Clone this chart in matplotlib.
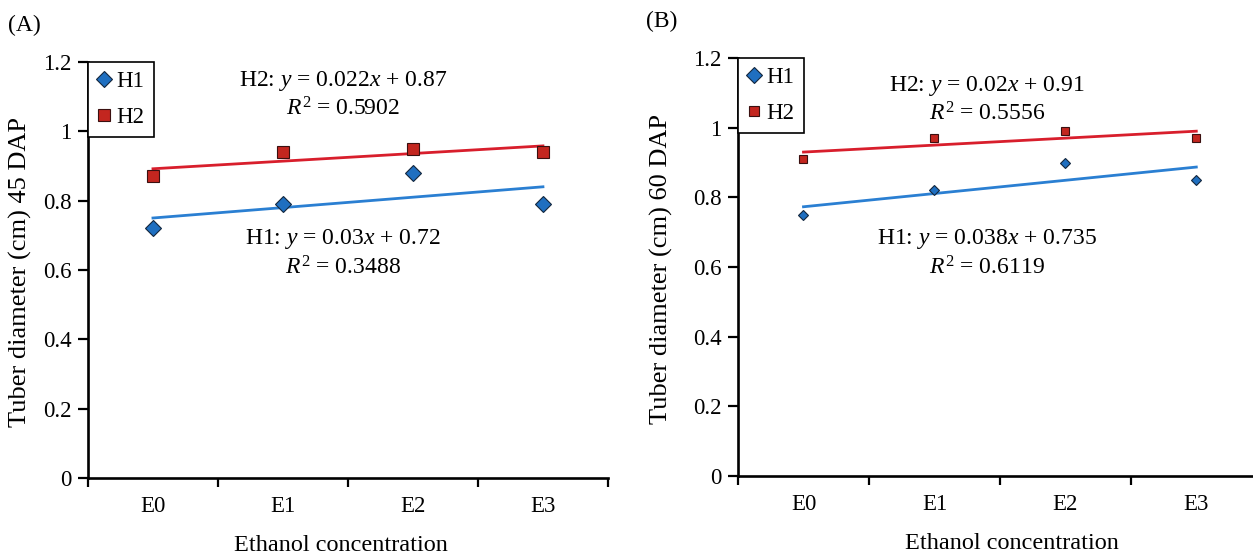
import matplotlib
matplotlib.use("Agg")
import matplotlib.pyplot as plt
import numpy as np

plt.rcParams['font.family'] = ['Liberation Serif', 'DejaVu Serif']
plt.rcParams['mathtext.fontset'] = 'custom'
plt.rcParams['mathtext.rm'] = 'Liberation Serif'
plt.rcParams['mathtext.it'] = 'Liberation Serif:italic'

# data
categories = ["E0", "E1", "E2", "E3"]
h1_45 = [0.72, 0.79, 0.88, 0.79]
h2_45 = [0.87, 0.94, 0.95, 0.94]
h1_60 = [0.75, 0.82, 0.90, 0.85]
h2_60 = [0.91, 0.97, 0.99, 0.97]
yticks = [0, 0.2, 0.4, 0.6, 0.8, 1, 1.2]
ytick_labels = ["0", "0.2", "0.4", "0.6", "0.8", "1", "1.2"]
eq_45 = ["H2: $y$ = 0.022$x$ + 0.87", "$R^2$ = 0.5902",
         "H1: $y$ = 0.03$x$ + 0.72", "$R^2$ = 0.3488"]
eq_60 = ["H2: $y$ = 0.02$x$ + 0.91", "$R^2$ = 0.5556",
         "H1: $y$ = 0.038$x$ + 0.735", "$R^2$ = 0.6119"]

BLUE = '#1f6fc0'
RED = '#c3261f'
BLUE_LINE = '#2a7fd2'
RED_LINE = '#d81e2c'

fig = plt.figure(figsize=(12.53, 5.57), dpi=100)
axA = fig.add_axes([0.0702, 0.1418, 0.415, 0.7469])
axB = fig.add_axes([0.589, 0.1454, 0.418, 0.7504])


def panel(ax, h1, h2, ylab, eqs, eq_x, eq_y, ms_d, ms_s, mscale, xlab_x, ylab_x):
    x = np.arange(1, len(categories) + 1)
    # linear trend lines (excel style, x = 1..4)
    for vals, col in ((h1, BLUE_LINE), (h2, RED_LINE)):
        k, b = np.polyfit(x, vals, 1)
        ax.plot(x, k * x + b, color=col, lw=2.0, zorder=2)
    ax.plot(x, h1, ls='none', marker='D', ms=ms_d, mfc=BLUE, mec='#13263d',
            mew=0.8, label='H1', zorder=3)
    ax.plot(x, h2, ls='none', marker='s', ms=ms_s, mfc=RED, mec='#3a1010',
            mew=0.8, label='H2', zorder=3)

    ax.set_xlim(0.5, len(categories) + 0.5)
    ax.set_ylim(0, 1.2)
    ax.set_yticks(yticks)
    ax.set_yticklabels(ytick_labels)
    # boundaries get tick marks, labels sit in the middle
    ax.set_xticks(np.arange(0.5, len(categories) + 1, 1))
    ax.set_xticklabels([])
    ax.set_xticks(x, minor=True)
    ax.set_xticklabels(categories, minor=True)
    ax.tick_params(axis='x', which='major', length=6.5, width=1.6, direction='out')
    ax.tick_params(axis='x', which='minor', length=0, pad=13, labelsize=16.5)
    ax.tick_params(axis='y', length=7, width=1.6, pad=5, labelsize=16.5)

    for s in ('top', 'right'):
        ax.spines[s].set_visible(False)
    for s in ('left', 'bottom'):
        ax.spines[s].set_linewidth(1.9)

    ax.set_ylabel(ylab, fontsize=19)
    ax.yaxis.set_label_coords(ylab_x, 0.495)
    ax.set_xlabel("Ethanol concentration", fontsize=17.5)
    ax.xaxis.set_label_coords(xlab_x, -0.137)

    leg = ax.legend(loc='upper left', bbox_to_anchor=(0, 1), borderaxespad=0,
                    fontsize=16.5, handlelength=0.6, handletextpad=0.25,
                    labelspacing=0.65, borderpad=0.4, markerscale=mscale,
                    fancybox=False, framealpha=1, edgecolor='black')
    leg.get_frame().set_linewidth(1.2)

    for txt, yy in zip(eqs, eq_y):
        ax.text(eq_x, yy, txt, transform=ax.transAxes, ha='center', va='center',
                fontsize=17)


panel(axA, h1_45, h2_45, "Tuber diameter (cm) 45 DAP", eq_45, 0.49,
      [0.955, 0.887, 0.575, 0.505], 8.0, 8.0, 1.0, 0.487, -0.108)
panel(axB, h1_60, h2_60, "Tuber diameter (cm) 60 DAP", eq_60, 0.475,
      [0.933, 0.866, 0.567, 0.498], 5.6, 5.2, 1.4, 0.523, -0.125)

fig.text(0.0065, 0.955, "(A)", fontsize=17, va='center', ha='left')
fig.text(0.5155, 0.962, "(B)", fontsize=17, va='center', ha='left')

fig.savefig("out.png", dpi=100)
